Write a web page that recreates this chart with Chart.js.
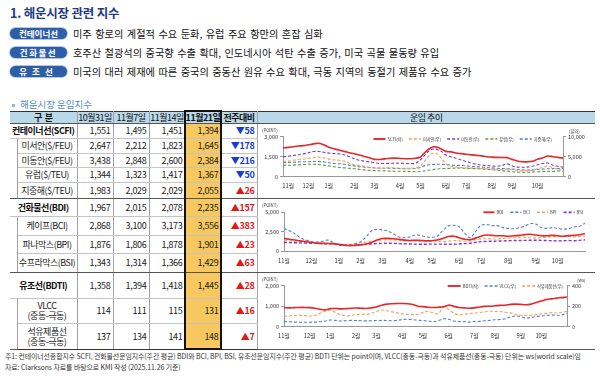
<!DOCTYPE html>
<html><head><meta charset="utf-8">
<script src="https://cdn.jsdelivr.net/npm/chart.js@4.4.1/dist/chart.umd.min.js"></script>
<style>
*{margin:0;padding:0;box-sizing:border-box}
body{width:600px;height:376px;background:#fff;font-family:'Noto Sans CJK KR','Noto Sans',sans-serif;overflow:hidden;position:relative}
#title{position:absolute;left:10px;top:3px;font-size:12.5px;font-weight:bold;color:#1f3b84;letter-spacing:-0.2px;white-space:nowrap}
.badge{position:absolute;left:10px;width:57px;height:11px;border-radius:6px;background:#2f5ea8;color:#fff;font-size:8.5px;font-weight:bold;text-align:center;line-height:11px;box-shadow:0 0 0 1px #b5c8e6;white-space:nowrap}
.line{position:absolute;left:73px;font-size:10.2px;line-height:11px;color:#111;white-space:nowrap;word-spacing:1.2px}
#sub{position:absolute;left:12px;top:97px;font-size:9.5px;color:#4d8cc9;white-space:nowrap}
#sub b{display:inline-block;width:3px;height:3px;background:#8fb6dc;margin-right:5px;vertical-align:middle}
table{position:absolute;left:10px;top:111px;width:585px;border-collapse:collapse;table-layout:fixed}
td{padding:0 2px 0 0;font-size:9px;color:#222;text-align:right;white-space:nowrap;overflow:hidden;border-right:1px solid #a0a0a0;border-bottom:1px solid #c4c4c4;line-height:10px;letter-spacing:-0.3px}
tr.hd td{background:#b9d9ea;font-weight:normal;text-align:center;border-top:1px solid #333;border-bottom:1px solid #555;padding:0;color:#111;letter-spacing:-0.5px}
tr.hd td.b{font-weight:bold}
td.lab{text-align:center;padding:0;letter-spacing:-0.5px}
td.main{font-weight:bold;color:#111}
td.ind{border-bottom:1px solid #555}
tr.gl td{border-bottom:1px solid #555}
tr.last td{border-bottom:1px solid #333}
td.cc{border-right:none;border-bottom:1px solid #555 !important;background:#fff}
td.y{background:#f6c85f}
td.up{color:#e01818;font-weight:bold}
td.dn{color:#1a3ad6;font-weight:bold}
#hl{position:absolute;left:184px;top:110px;width:38px;height:240px;border:2px solid #111;pointer-events:none}
.cv{position:absolute}
#notes{position:absolute;left:5px;top:351px;font-size:6.9px;line-height:10.5px;color:#333;white-space:nowrap;letter-spacing:-0.05px}
</style>
</head><body>
<div id="title">1. 해운시장 관련 지수</div>
<div class="badge" style="top:28px">컨테이너선</div>
<div class="line" style="top:28px">미주 항로의 계절적 수요 둔화, 유럽 주요 항만의 혼잡 심화</div>
<div class="badge" style="top:47px;letter-spacing:1.5px">건화물선</div>
<div class="line" style="top:47px">호주산 철광석의 중국향 수출 확대, 인도네시아 석탄 수출 증가, 미국 곡물 물동량 유입</div>
<div class="badge" style="top:66px;letter-spacing:5px">유조선</div>
<div class="line" style="top:66px">미국의 대러 제재에 따른 중국의 중동산 원유 수요 확대, 극동 지역의 동절기 제품유 수요 증가</div>
<div id="sub"><b></b>해운시장 운임지수</div>
<table id="tbl"></table>
<div id="hl"></div>
<canvas id="c1" class="cv" width="338" height="74" style="left:257px;top:124px"></canvas>
<canvas id="c2" class="cv" width="338" height="73" style="left:257px;top:199px"></canvas>
<canvas id="c3" class="cv" width="338" height="76" style="left:257px;top:273px"></canvas>
<div id="notes">주1: 컨테이너선종합지수 SCFI, 건화물선운임지수(주간 평균) BDI와 BCI, BPI, BSI, 유조선운임지수(주간 평균) BDTI 단위는 point이며, VLCC(중동-극동)과 석유제품선(중동-극동) 단위는 ws(world scale)임<br>자료: Clarksons 자료를 바탕으로 KMI 작성 (2025.11.26 기준)</div>
<script>
// ---------- table data ----------
const headers = ['구 &nbsp;분','10월31일','11월7일','11월14일','11월21일','전주대비','운임 추이'];
const rowLabels = ['컨테이너선(SCFI)','미서안($/FEU)','미동안($/FEU)','유럽($/TEU)','지중해($/TEU)','건화물선(BDI)','케이프(BCI)','파나막스(BPI)','수프라막스(BSI)','유조선(BDTI)','VLCC<br>(중동-극동)','석유제품선<br>(중동-극동)'];
const v1031 = [1551,2647,3438,1344,1983,1967,2868,1876,1343,1358,114,137];
const v1107 = [1495,2212,2848,1323,2029,2015,3100,1806,1314,1394,111,134];
const v1114 = [1451,1823,2600,1417,2029,2078,3173,1878,1366,1418,115,141];
const v1121 = [1394,1645,2384,1367,2055,2235,3556,1901,1429,1445,131,148];
const wow   = [-58,-178,-216,-50,26,157,383,23,63,28,16,7];

// ---------- chart data (weekly) ----------
const monthNames = ['11월','12월','1월','2월','3월','4월','5월','6월','7월','8월','9월','10월'];
const monthIdx1 = [1,5,9,14,18,23,27,32,36,41,45,50];
const monthIdx2 = [0,5,10,14,18,23,27,32,36,41,46,50];
const monthIdx3 = [0,5,9,14,18,23,27,32,37,41,46,50];

const scfi = [2160,2200,2250,2300,2330,2390,2460,2505,2400,2200, 2100,2000,1900,1800,1720,1630,1520,1420,1300,1290, 1340,1380,1390,1370,1350,1345,1380,1480,1860,2150, 2240,2090,1900,1860,1780,1730,1680,1640,1600,1560, 1500,1470,1450,1440,1430,1300,1180,1120,1115,1160, 1310,1400,1551,1495,1451,1394];
const usWest = [3800,3900,4100,4300,4400,4600,4800,4900,4700,4400, 4200,4100,3900,3400,3000,2800,2600,2300,2200,2100, 2200,2250,2200,2150,2100,2100,2200,2700,4200,5600, 5900,4800,3200,2600,2400,2300,2200,2150,2100,2000, 1950,1900,1850,1800,1900,1750,1600,1450,1450,1600, 2000,2300,2647,2212,1823,1645];
const usEast = [5000,5100,5300,5500,5700,6000,6300,6300,6100,5900, 5800,5700,5500,5000,4500,4100,3900,3700,3500,3300, 3300,3350,3400,3350,3300,3300,3350,4200,5600,6700, 6900,6400,5400,5000,4600,4200,3800,3400,3100,2900, 2800,2700,2600,2800,3200,2700,2400,2350,2400,2600, 3000,3300,3438,2848,2600,2384];
const europe = [2800,2850,2900,3000,3050,3100,3100,3050,2900,2700, 2500,2300,2200,2100,2000,1850,1700,1600,1550,1500, 1450,1400,1380,1370,1350,1300,1250,1300,1500,1700, 1900,2000,2050,2100,2150,2150,2100,2050,2000,1950, 1850,1750,1600,1500,1400,1250,1150,1100,1100,1200, 1250,1300,1344,1323,1417,1367];
const medit = [3500,3550,3600,3700,3750,3750,3800,3800,3700,3500, 3300,3200,3100,2900,2700,2500,2400,2300,2200,2150, 2100,2100,2050,2050,2000,2000,2050,2300,2800,3000, 3100,3100,3000,2900,2850,2800,2700,2600,2500,2400, 2300,2200,2100,2050,2000,1900,1800,1700,1650,1700, 1800,1900,1983,2029,2029,2055];

const bdi = [1600,1500,1400,1300,1200,1100,1000,980,970,950, 850,750,700,720,800,900,1100,1400,1600,1620, 1580,1500,1400,1350,1380,1350,1300,1320,1400,1600, 1850,1900,1700,1500,1450,1650,1900,2050,2000,1950, 1950,1900,1950,2000,2100,2150,2050,1950,1950,2000, 1950,1900,1967,2015,2078,2235];
const bci = [2900,2600,2200,1700,1400,1200,1150,1250,1400,1100, 800,700,750,900,1200,1800,2600,2750,2700,2550, 2200,1800,1700,1800,2050,2000,1800,1750,1900,2600, 3200,3300,3100,2300,1700,2500,3300,3400,3250,3250, 3000,2900,2850,3000,3200,3500,3450,3000,2900,3000, 2900,2800,2868,3100,3173,3556];
const bpi = [1350,1300,1250,1200,1150,1100,1050,1000,950,900, 850,800,850,950,1050,1150,1250,1350,1400,1450, 1400,1350,1300,1300,1250,1250,1300,1300,1250,1200, 1250,1350,1300,1250,1300,1450,1550,1600,1550,1550, 1600,1650,1700,1750,1750,1700,1650,1700,1750,1800, 1850,1850,1876,1806,1878,1901];
const bsi = [1100,1080,1060,1040,1020,1000,980,950,920,880, 800,720,700,720,780,850,900,950,980,1000, 980,950,920,900,880,870,870,880,880,870, 860,870,900,950,1000,1100,1200,1230,1250,1270, 1300,1320,1340,1350,1360,1380,1380,1360,1340,1320, 1300,1310,1343,1314,1366,1429];

const bdti = [930,920,930,940,940,930,900,850,820,880, 890,870,880,900,910,900,890,920,960,1050, 1100,1120,1130,1130,1120,1080,1000,980,950,940, 950,970,1050,990,940,920,900,920,960,990, 1000,1020,1040,1050,1090,1100,1090,1070,1100,1180, 1250,1330,1358,1394,1418,1445];
const vlcc = [50,48,45,44,43,44,45,48,55,65, 62,56,58,62,60,58,57,58,60,62, 60,58,62,70,72,68,64,60,55,50, 58,78,72,55,50,48,45,50,52,58, 62,68,70,78,95,105,98,85,90,100, 105,110,114,111,115,131];
const product = [100,105,110,112,108,104,110,130,150,160, 140,115,105,110,118,122,120,130,150,160, 155,145,135,125,120,118,122,140,150,135, 128,190,170,130,118,122,128,132,138,145, 150,150,148,140,135,120,112,110,112,118, 125,130,137,134,141,148];

// ---------- build table ----------
const rowH = [15,15,14,15,16,18,19,18,19,26,25,26];
const groups = [{start:0,n:5},{start:5,n:4},{start:9,n:3}];
const boldHead = [true,false,false,false,true,true,false];
const fmt = v => v.toLocaleString('en-US');
let html = '<colgroup><col style="width:7px"><col style="width:60px"><col style="width:36px"><col style="width:36px"><col style="width:36px"><col style="width:36px"><col style="width:36px"><col style="width:338px"></colgroup>';
html += '<tr class="hd" style="height:12px"><td colspan="2" class="b">'+headers[0]+'</td>';
for (let k=1;k<6;k++) html += '<td class="'+(boldHead[k]?'b':'')+'">'+headers[k]+'</td>';
html += '<td class="cc" style="border-bottom:1px solid #555">'+headers[6]+'</td></tr>';
groups.forEach((g,gi)=>{
  for (let j=0;j<g.n;j++){
    const i = g.start+j;
    const cls = (j===g.n-1) ? (gi===2?'gl last':'gl') : '';
    let tr = '<tr class="'+cls+'" style="height:'+rowH[i]+'px">';
    if (j===0) tr += '<td colspan="2" class="lab main">'+rowLabels[i]+'</td>';
    else {
      if (j===1) tr += '<td class="ind" rowspan="'+(g.n-1)+'"></td>';
      tr += '<td class="lab">'+rowLabels[i]+'</td>';
    }
    tr += '<td>'+fmt(v1031[i])+'</td><td>'+fmt(v1107[i])+'</td><td>'+fmt(v1114[i])+'</td><td class="y">'+fmt(v1121[i])+'</td>';
    const w = wow[i];
    tr += '<td class="'+(w<0?'dn':'up')+'">'+(w<0?'▼':'▲')+Math.abs(w)+'</td>';
    if (j===0) tr += '<td class="cc" rowspan="'+g.n+'"></td>';
    tr += '</tr>';
    html += tr;
  }
});
document.getElementById('tbl').innerHTML = html;

// ---------- charts ----------
const FONT = "'Noto Sans CJK KR','Noto Sans',sans-serif";
Chart.defaults.font.family = FONT;
Chart.defaults.color = '#333';

function mkLabels(idx){ const a = scfi.map(()=> ''); idx.forEach((k,j)=>{ a[k]=monthNames[j]; }); return a; }

const inlineLegend = {
  id:'inlineLegend',
  afterDraw(chart, args, o){
    const {ctx, chartArea} = chart;
    ctx.save();
    ctx.font = o.size+'px '+FONT;
    ctx.textBaseline = 'middle';
    const items = chart.data.datasets.map(ds=>({ds, w:o.lineW+2+ctx.measureText(ds.label).width}));
    const total = items.reduce((a,b)=>a+b.w,0)+o.space*(items.length-1);
    let x = chartArea.right - o.right - total;
    const y = chartArea.top + o.dy;
    items.forEach(it=>{
      ctx.strokeStyle = it.ds.borderColor; ctx.lineWidth = it.ds.borderWidth+0.3;
      ctx.setLineDash(it.ds.borderDash||[]);
      ctx.beginPath(); ctx.moveTo(x,y); ctx.lineTo(x+o.lineW,y); ctx.stroke();
      ctx.setLineDash([]);
      ctx.fillStyle = '#333'; ctx.fillText(it.ds.label, x+o.lineW+2, y+0.3);
      x += it.w + o.space;
    });
    ctx.font = '4.3px '+FONT;
    ctx.fillStyle = '#333';
    if (o.unitL) { ctx.textAlign='left'; ctx.fillText(o.unitL, 5, chartArea.top - o.unitDy); }
    if (o.unitR) { ctx.textAlign='left'; ctx.fillText(o.unitR, chartArea.right + o.unitRx, chartArea.top - o.unitDy + 1); }
    ctx.restore();
  }
};

function ds(label, data, color, dash, axis, width){
  return {label, data, borderColor:color, backgroundColor:color, borderWidth:width||1.1, borderDash:dash||[], pointRadius:0, tension:0.35, yAxisID:axis, fill:false};
}
function yS(pos, max, step, w){
  return {position:pos, min:0, max:max,
    ticks:{stepSize:step, font:{size:5.5}, color:'#333', padding:2},
    grid:{display:true, drawOnChartArea:false, tickLength:3, color:'#999'},
    border:{display:true, color:'#999'},
    afterFit(s){ s.width = w; }};
}
function xS(labels, h){
  return {type:'category', labels,
    ticks:{autoSkip:false, maxRotation:0, minRotation:0, font:{size:5.8}, color:'#333', padding:6},
    grid:{display:false, drawTicks:false}, border:{display:true, color:'#999'},
    afterFit(s){ s.height = h; }};
}
const base = {responsive:false, animation:false, locale:'en-US', events:[]};

new Chart(document.getElementById('c1'), {
  type:'line',
  data:{labels:mkLabels(monthIdx1), datasets:[
    ds('SCFI(좌)', scfi, '#e8262a', [], 'yL', 1.6),
    ds('미서안(우)', usWest, '#f4a15a', [3,2], 'yR'),
    ds('미동안(우)', usEast, '#7a3fb0', [3,2], 'yR'),
    ds('유럽(우)', europe, '#5f9a3c', [3,2], 'yR'),
    ds('지중해(우)', medit, '#4f7fd0', [3,2], 'yR')
  ]},
  options:Object.assign({}, base, {
    layout:{padding:{top:12.7, left:0, right:0, bottom:0}},
    scales:{x:xS(mkLabels(monthIdx1), 21.3), yL:yS('left',3000,1500,26), yR:yS('right',10000,5000,32)},
    plugins:{legend:{display:false}, tooltip:{enabled:false},
      inlineLegend:{size:4.2, lineW:12, space:6, right:11, dy:2.3, unitL:'(POINT)', unitR:'(달러)', unitDy:6, unitRx:6}}
  }),
  plugins:[inlineLegend]
});

new Chart(document.getElementById('c2'), {
  type:'line',
  data:{labels:mkLabels(monthIdx2), datasets:[
    ds('BDI', bdi, '#e8262a', [], 'yL', 1.6),
    ds('BCI', bci, '#4f7fd0', [3,2], 'yL'),
    ds('BPI', bpi, '#f4a15a', [3,2], 'yL'),
    ds('BSI', bsi, '#8a35c0', [3,2], 'yL', 1.4)
  ]},
  options:Object.assign({}, base, {
    layout:{padding:{top:13, left:0, right:10, bottom:0}},
    scales:{x:xS(mkLabels(monthIdx2), 21), yL:yS('left',5000,2500,27)},
    plugins:{legend:{display:false}, tooltip:{enabled:false},
      inlineLegend:{size:4.2, lineW:11, space:7, right:2, dy:0.3, unitL:'(POINT)', unitDy:7}}
  }),
  plugins:[inlineLegend]
});

new Chart(document.getElementById('c3'), {
  type:'line',
  data:{labels:mkLabels(monthIdx3), datasets:[
    ds('BDTI(좌)', bdti, '#e8262a', [], 'yL', 1.6),
    ds('VLCC(우)', vlcc, '#4f7fd0', [3,2], 'yR'),
    ds('석유제품선(우)', product, '#f4a15a', [3,2], 'yR')
  ]},
  options:Object.assign({}, base, {
    layout:{padding:{top:12.7, left:0, right:0, bottom:0}},
    scales:{x:xS(mkLabels(monthIdx3), 22.3), yL:yS('left',2000,1000,27), yR:yS('right',400,200,28)},
    plugins:{legend:{display:false}, tooltip:{enabled:false},
      inlineLegend:{size:4.2, lineW:13, space:6, right:4, dy:0.3, unitL:'(POINT)', unitR:'(ws)', unitDy:6, unitRx:10}}
  }),
  plugins:[inlineLegend]
});
</script>
</body></html>
